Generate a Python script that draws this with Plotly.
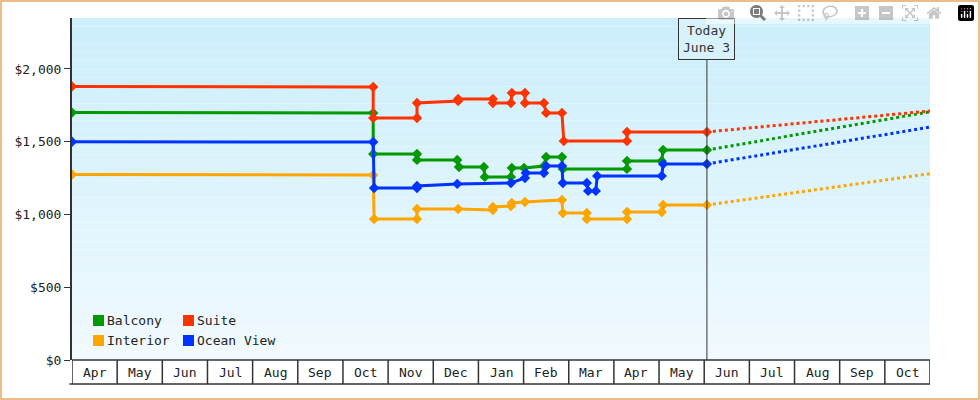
import plotly.graph_objects as go

# x positions are in months from the start of April (0 = Apr 1)
months = ["Apr", "May", "Jun", "Jul", "Aug", "Sep", "Oct", "Nov", "Dec", "Jan",
          "Feb", "Mar", "Apr", "May", "Jun", "Jul", "Aug", "Sep", "Oct"]

suite_x = [0, 6.67, 6.67, 7.64, 7.64, 8.55, 8.55, 9.32, 9.32, 9.72, 9.74, 10.03, 10.03,
           10.45, 10.50, 10.85, 10.89, 12.29, 12.29, 14.06]
suite_y = [1880, 1876, 1663, 1663, 1766, 1780, 1794, 1794, 1766, 1766, 1835, 1835, 1766,
           1766, 1698, 1698, 1505, 1505, 1567, 1567]

balcony_x = [0, 6.67, 6.67, 7.64, 7.64, 8.53, 8.57, 9.12, 9.14, 9.72, 9.74, 10.01, 10.45,
             10.50, 10.85, 10.87, 12.29, 12.29, 13.06, 13.09, 14.06]
balcony_y = [1700, 1698, 1416, 1416, 1375, 1375, 1326, 1326, 1258, 1258, 1320, 1320, 1333,
             1395, 1395, 1313, 1313, 1368, 1368, 1443, 1443]

ocean_x = [0, 6.67, 6.69, 7.64, 7.64, 8.53, 9.72, 10.03, 10.05, 10.45, 10.50, 10.85, 10.87,
           11.40, 11.43, 11.60, 11.63, 13.06, 13.09, 14.06]
ocean_y = [1500, 1498, 1182, 1182, 1196, 1210, 1216, 1251, 1285, 1285, 1333, 1333, 1216,
           1216, 1162, 1162, 1265, 1265, 1347, 1347]

interior_x = [0, 6.67, 6.69, 7.64, 7.64, 8.55, 9.32, 9.32, 9.72, 9.74, 10.03, 10.85, 10.87,
              11.40, 11.40, 12.29, 12.29, 13.06, 13.09, 14.06]
interior_y = [1275, 1271, 969, 969, 1038, 1038, 1031, 1052, 1058, 1079, 1086, 1100, 1010,
              1010, 969, 969, 1017, 1017, 1065, 1065]

proj_x = [14.06, 19.0]
suite_proj = [1567, 1711]
balcony_proj = [1443, 1705]
ocean_proj = [1347, 1600]
interior_proj = [1065, 1280]

today_x = 14.06

series = [
    ("Balcony", "#009900", balcony_x, balcony_y, balcony_proj),
    ("Suite", "#ff3300", suite_x, suite_y, suite_proj),
    ("Interior", "#ffa500", interior_x, interior_y, interior_proj),
    ("Ocean View", "#0033ff", ocean_x, ocean_y, ocean_proj),
]

fig = go.Figure()
shapes = []
annotations = []

# gradient background in strips
n = 40
top = (204, 239, 251)
bot = (240, 250, 255)
for i in range(n):
    t = i / (n - 1)
    c = tuple(int(top[k] + (bot[k] - top[k]) * t) for k in range(3))
    shapes.append(dict(type="rect", xref="paper", yref="paper", x0=0, x1=1,
                       y0=1 - (i + 1) / n, y1=1 - i / n, line_width=0,
                       fillcolor="rgb(%d,%d,%d)" % c, layer="below"))

for name, color, xs, ys, proj in series:
    fig.add_trace(go.Scatter(x=proj_x, y=proj, mode="lines", showlegend=False,
                             line=dict(color=color, width=3, dash="dot")))
for name, color, xs, ys, proj in series:
    fig.add_trace(go.Scatter(x=xs, y=ys, mode="lines+markers", name=name, showlegend=False,
                             line=dict(color=color, width=3),
                             marker=dict(color=color, size=8, symbol="diamond")))

# today line and box
shapes.append(dict(type="line", xref="x", yref="paper", x0=today_x, x1=today_x, y0=0, y1=1,
                   line=dict(color="#333", width=1)))
annotations.append(dict(x=today_x, y=1.0, xref="x", yref="paper", yanchor="top",
                        text="Today<br>June 3", showarrow=False, bgcolor="#d8f2fb",
                        bordercolor="#333", borderwidth=1, borderpad=4,
                        font=dict(size=13, color="#333")))

# month boxes below the plot
bh = -24 / 342
for i in range(len(months) + 1):
    shapes.append(dict(type="line", xref="x", yref="paper", x0=i, x1=i, y0=0, y1=bh,
                       line=dict(color="#333", width=1.5)))
shapes.append(dict(type="line", xref="paper", yref="paper", x0=-0.003, x1=1, y0=bh, y1=bh,
                   line=dict(color="#333", width=1.5)))
shapes.append(dict(type="line", xref="paper", yref="paper", x0=0, x1=1, y0=0, y1=0,
                   line=dict(color="#333", width=1.5)))
for i, m in enumerate(months):
    annotations.append(dict(x=i + 0.5, y=bh / 2, xref="x", yref="paper", text=m,
                            yanchor="middle", showarrow=False,
                            font=dict(size=13, color="#222")))

# legend
leg = [("Balcony", "#009900", 0), ("Suite", "#ff3300", 1),
       ("Interior", "#ffa500", 2), ("Ocean View", "#0033ff", 3)]
for name, color, k in leg:
    col, row = k % 2, k // 2
    x0 = 21 + col * 90
    y0 = 297 + row * 20
    shapes.append(dict(type="rect", xref="paper", yref="paper",
                       x0=x0 / 858, x1=(x0 + 11) / 858,
                       y0=(342 - y0 - 11) / 342, y1=(342 - y0) / 342,
                       fillcolor=color, line_width=0))
    annotations.append(dict(x=(x0 + 12) / 858, y=(342 - y0 - 5.5) / 342, xref="paper",
                            yref="paper", xanchor="left", yanchor="middle", text=name,
                            showarrow=False, font=dict(size=13, color="#222")))

# orange frame around figure
shapes.append(dict(type="rect", xref="paper", yref="paper",
                   x0=-71 / 858, x1=(858 + 49) / 858, y0=-39 / 342, y1=(342 + 17) / 342,
                   line=dict(color="#e8a860", width=1.5)))

fig.update_layout(
    width=980, height=400,
    margin=dict(l=72, r=50, t=18, b=40),
    paper_bgcolor="white", plot_bgcolor="rgba(0,0,0,0)",
    font=dict(family="DejaVu Sans Mono", size=13, color="#222"),
    shapes=shapes, annotations=annotations, showlegend=False,
    xaxis=dict(range=[0, 19], showgrid=False, zeroline=False, showticklabels=False,
               ticks=""),
    yaxis=dict(range=[0, 2350], tickvals=[0, 500, 1000, 1500, 2000],
               ticktext=["$0", "$500", "$1,000", "$1,500", "$2,000"],
               showgrid=False, zeroline=False, showline=True, linecolor="#333",
               linewidth=2, ticks="outside", ticklen=6, tickcolor="#333"),
)
fig.write_html("out.html", post_script="document.body.style.margin='0';")
